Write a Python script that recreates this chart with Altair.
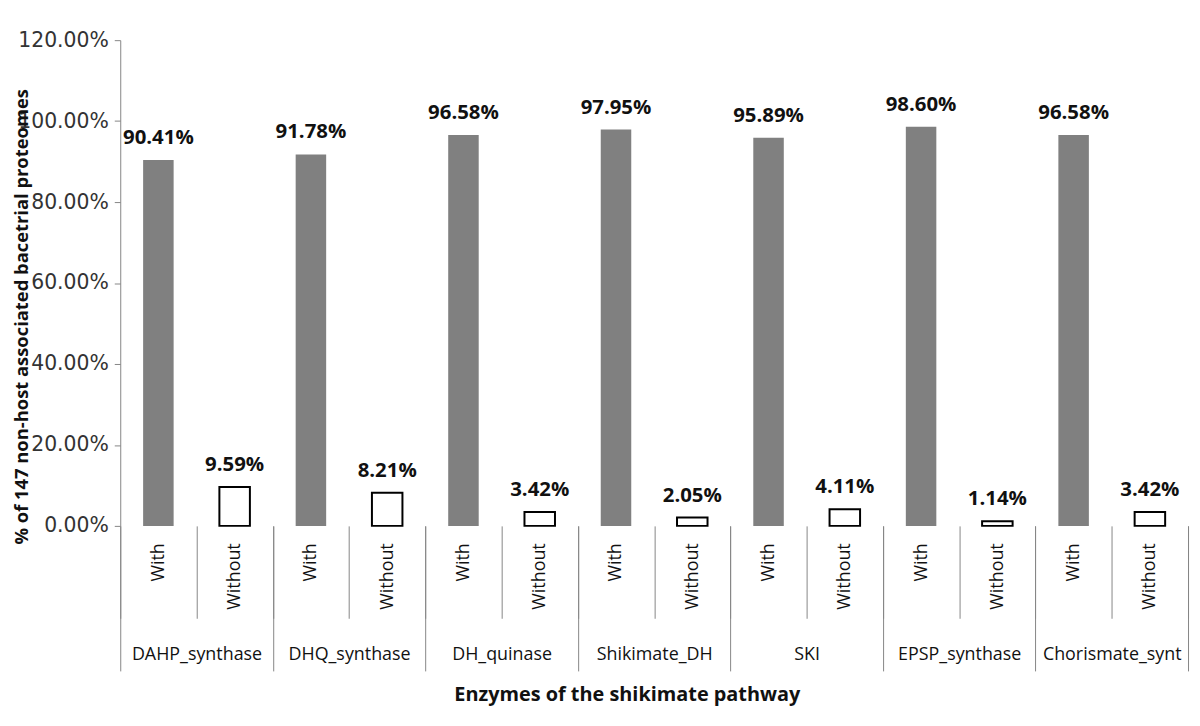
import altair as alt
import pandas as pd

enzymes = ["DAHP_synthase", "DHQ_synthase", "DH_quinase", "Shikimate_DH",
           "SKI", "EPSP_synthase", "Chorismate_synt"]
types = ["With", "Without"]
with_vals = [90.41, 91.78, 96.58, 97.95, 95.89, 98.60, 96.58]
without_vals = [9.59, 8.21, 3.42, 2.05, 4.11, 1.14, 3.42]
y_ticks = [0, 20, 40, 60, 80, 100, 120]

rows = []
for e, w, wo in zip(enzymes, with_vals, without_vals):
    rows.append({"key": f"{e}|With", "enzyme": e, "type": "With", "v": w})
    rows.append({"key": f"{e}|Without", "enzyme": e, "type": "Without", "v": wo})
df = pd.DataFrame(rows)
keys = list(df["key"])
edf = pd.DataFrame({"enzyme": enzymes, "v": [0] * len(enzymes)})

FONT = "Open Sans"
GREY = "#868686"

key_scale = alt.Scale(type="band", paddingInner=0, paddingOuter=0)
x_key = alt.X(
    "key:N", sort=keys,
    scale=key_scale,
    axis=alt.Axis(
        title=None, domain=False, orient="bottom",
        labelExpr="split(datum.label, '|')[1]",
        labelAngle=270, labelAlign="right", labelBaseline="middle",
        labelFontSize=18, labelFont=FONT, labelColor="#111111",
        labelPadding=-76,
        ticks=True, tickBand="extent", tickSize=93, tickColor=GREY, tickWidth=1,
    ),
)
y_enc = alt.Y(
    "v:Q",
    scale=alt.Scale(domain=[0, 120], nice=False),
    axis=alt.Axis(
        values=y_ticks, grid=False,
        labelExpr="format(datum.value, '.2f') + '%'",
        labelFontSize=20.5, labelFont="DejaVu Sans", labelColor="#333333", labelPadding=6,
        domainColor=GREY, tickColor=GREY, tickSize=6,
        title="% of 147 non-host associated bacetrial proteomes",
        titleFont=FONT, titleFontSize=18.5, titleFontWeight="bold", titleColor="#111111",
        titleX=-99, titleY=278, titleAngle=270, titleAlign="center", titleBaseline="middle",
    ),
)

bars = alt.Chart(df).mark_bar(width={"band": 0.4}).encode(
    x=x_key,
    y=y_enc,
    fill=alt.Fill("type:N", scale=alt.Scale(domain=types, range=["#808080", "#ffffff"]), legend=None),
    stroke=alt.Stroke("type:N", scale=alt.Scale(domain=types, range=["#808080", "#000000"]), legend=None),
    strokeWidth=alt.StrokeWidth("type:N", scale=alt.Scale(domain=types, range=[0, 2]), legend=None),
)

labels = alt.Chart(df).transform_calculate(
    lbl="format(datum.v, '.2f') + '%'"
).mark_text(
    baseline="bottom", dy=-12, fontWeight="bold", fontSize=20.5, font=FONT, color="#111111"
).encode(
    x=alt.X("key:N", sort=keys, scale=key_scale),
    y="v:Q",
    text="lbl:N",
)

main = alt.layer(bars, labels)

enz_axis = alt.Chart(edf).mark_point(opacity=0).encode(
    x=alt.X(
        "enzyme:N", sort=enzymes,
        scale=alt.Scale(type="band", paddingInner=0, paddingOuter=0),
        axis=alt.Axis(
            orient="bottom", domain=False, labelAngle=0,
            labelFontSize=18, labelFont=FONT, labelColor="#111111",
            labelPadding=-25, labelBaseline="top",
            tickBand="extent", tickSize=146, tickColor=GREY, tickWidth=1,
            title="Enzymes of the shikimate pathway",
            titleFont=FONT, titleFontSize=20, titleFontWeight="bold", titleColor="#111111",
            titleX=510, titleY=170, titleAlign="center", titleBaseline="middle",
        ),
    ),
    y="v:Q",
)

chart = alt.layer(main, enz_axis).resolve_scale(x="independent").properties(
    width=1075, height=489,
    autosize=alt.AutoSizeParams(type="none"),
    padding={"left": 113, "top": 30, "right": 4, "bottom": 185},
).configure(
    background="white",
    view=alt.ViewConfig(stroke="transparent", strokeWidth=0),
    style={"cell": {"stroke": "transparent", "strokeWidth": 0}},
)

chart.save("out.html", embed_options={"renderer": "svg", "actions": False})
